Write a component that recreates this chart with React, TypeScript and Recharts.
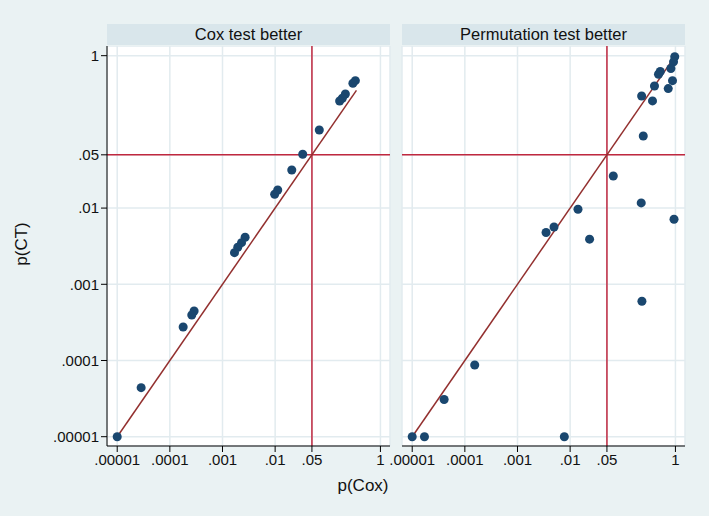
import React from 'react'
import {
  ScatterChart,
  Scatter,
  XAxis,
  YAxis,
  CartesianGrid,
  ReferenceLine
} from 'recharts'

// p-values: x = p(Cox), y = p(CT)
const coxBetterCox = [
  0.334, 0.30, 0.216, 0.189, 0.168, 0.069, 0.0334, 0.0207, 0.0112, 0.0098,
  0.00269, 0.0023, 0.00195, 0.00169, 0.000289, 0.000261, 0.000179, 0.0000285, 0.00001
]
const coxBetterCT = [
  0.47, 0.434, 0.314, 0.276, 0.254, 0.106, 0.0508, 0.0316, 0.0173, 0.0152,
  0.00414, 0.00352, 0.00306, 0.0026, 0.000447, 0.000396, 0.000275, 0.000044, 0.00001
]

const permBetterCox = [
  0.97, 0.92, 0.82, 0.515, 0.477, 0.88, 0.40, 0.73, 0.228, 0.367, 0.245, 0.066,
  0.224, 0.0141, 0.94, 0.00494, 0.00349, 0.0234, 0.231, 0.000154, 0.0000404,
  0.00001, 0.0000171, 0.00776
]
const permBetterCT = [
  0.97, 0.83, 0.68, 0.62, 0.57, 0.47, 0.40, 0.37, 0.296, 0.255, 0.0883, 0.0264,
  0.0117, 0.00964, 0.00713, 0.00565, 0.00479, 0.00391, 0.000598, 0.0000873, 0.0000308,
  0.00001, 0.00001, 0.00001
]

// y = x reference segments (from smallest to largest p(Cox) in each panel)
const coxDiag = [0.00001, 0.35]
const permDiag = [0.00001, 1]

const tickValues = [0.00001, 0.0001, 0.001, 0.01, 0.05, 1]
const tickLabels = ['.00001', '.0001', '.001', '.01', '.05', '1']
const panelTitles = ['Cox test better', 'Permutation test better']

const xDomain = [6.4e-6, 1.52]
const yDomain = [7.55e-6, 1.34]

const FONT = '"Liberation Sans", Arial, Helvetica, sans-serif'
const NAVY = '#1a476f'
const REF_RED = '#c0283f'
const DIAG_RED = '#93302f'
const GRID = '#e2ebef'

const fmt = (v: number) => {
  const i = tickValues.findIndex(t => Math.abs(t - v) / t < 1e-6)
  return i >= 0 ? tickLabels[i] : String(v)
}

const toPoints = (xs: number[], ys: number[]) => xs.map((x, i) => ({ x, y: ys[i] }))

const tickStyle = { fill: '#111', fontSize: 15, fontFamily: FONT }

function Panel({
  xs,
  ys,
  diag,
  showY,
  width,
  margin
}: {
  xs: number[]
  ys: number[]
  diag: number[]
  showY: boolean
  width: number
  margin: { top: number; right: number; bottom: number; left: number }
}) {
  return (
    <ScatterChart width={width} height={440} margin={margin}>
      <CartesianGrid stroke={GRID} strokeWidth={1.5} fill="#ffffff" />
      <XAxis
        type="number"
        dataKey="x"
        scale="log"
        domain={xDomain}
        allowDataOverflow
        ticks={tickValues}
        interval={0}
        tickFormatter={fmt}
        tick={tickStyle}
        tickSize={6}
        height={40}
        stroke="#000"
      />
      <YAxis
        type="number"
        dataKey="y"
        scale="log"
        domain={yDomain}
        allowDataOverflow
        ticks={tickValues}
        interval={0}
        tickFormatter={fmt}
        tick={tickStyle}
        tickSize={6}
        width={107}
        stroke="#000"
        hide={!showY}
      />
      <ReferenceLine x={0.05} stroke={REF_RED} strokeWidth={1.5} />
      <ReferenceLine y={0.05} stroke={REF_RED} strokeWidth={1.5} />
      <ReferenceLine
        segment={[
          { x: diag[0], y: diag[0] },
          { x: diag[1], y: diag[1] }
        ]}
        stroke={DIAG_RED}
        strokeWidth={1.5}
      />
      <Scatter data={toPoints(xs, ys)} fill={NAVY} isAnimationActive={false} />
    </ScatterChart>
  )
}

export default function App() {
  const header = (left: number, text: string) => (
    <div
      style={{
        position: 'absolute',
        left,
        top: 24,
        width: 283,
        height: 21,
        background: '#d9e6eb',
        textAlign: 'center',
        fontSize: 16.5,
        lineHeight: '21px',
        color: '#111'
      }}
    >
      {text}
    </div>
  )

  return (
    <div
      style={{
        position: 'absolute',
        left: 0,
        top: 0,
        width: 709,
        height: 516,
        background: '#eaf2f3',
        fontFamily: FONT,
        overflow: 'hidden'
      }}
    >
      {header(107, panelTitles[0])}
      {header(402, panelTitles[1])}

      <div style={{ position: 'absolute', left: 0, top: 46 }}>
        <Panel
          xs={coxBetterCox}
          ys={coxBetterCT}
          diag={coxDiag}
          showY
          width={400}
          margin={{ top: 0, right: 10, bottom: 0, left: 0 }}
        />
      </div>
      <div style={{ position: 'absolute', left: 388, top: 46 }}>
        <Panel
          xs={permBetterCox}
          ys={permBetterCT}
          diag={permDiag}
          showY={false}
          width={315}
          margin={{ top: 0, right: 18, bottom: 0, left: 14 }}
        />
      </div>

      <div
        style={{
          position: 'absolute',
          left: 313,
          width: 100,
          top: 476,
          textAlign: 'center',
          fontSize: 17,
          color: '#111'
        }}
      >
        p(Cox)
      </div>
      <div
        style={{
          position: 'absolute',
          left: -28,
          top: 234,
          width: 100,
          textAlign: 'center',
          fontSize: 17,
          color: '#111',
          transform: 'rotate(-90deg)'
        }}
      >
        p(CT)
      </div>
    </div>
  )
}
